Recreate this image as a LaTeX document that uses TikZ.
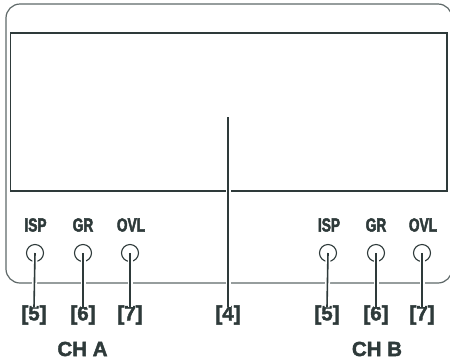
\documentclass[tikz,border=0pt]{standalone}
\usepackage{fontspec}
\setmainfont{Liberation Sans}
\newfontfamily\condfont[FakeStretch=0.72,FakeBold=2.4]{Liberation Sans}
\newfontfamily\heavyfont[FakeBold=2]{Liberation Sans}
\definecolor{ink}{HTML}{2E3A3A}
\definecolor{frame}{HTML}{5E6868}
\begin{document}
\begin{tikzpicture}[x=1pt,y=-1pt,
  lbl/.style={font=\condfont\bfseries\fontsize{19}{19}\selectfont,text=ink,inner sep=0pt},
  num/.style={font=\heavyfont\bfseries\fontsize{20.5}{20.5}\selectfont,text=ink,inner sep=0pt},
  led/.style={circle,draw=ink,line width=1.1pt,minimum size=17pt,inner sep=0pt},
  halo/.style={draw=white,line width=5pt},
  leader/.style={draw=ink,line width=1.6pt}]
\useasboundingbox (0,0) rectangle (450,360);
% outer housing
\draw[frame,line width=1.2pt,rounded corners=14pt] (6,4) rectangle (452,283);
% display
\draw[ink,line width=1.6pt] (10.5,33) rectangle (447,191);
% channel A
\node[lbl] (ispA) at (35.5,225) {ISP};
\node[lbl] (grA) at (83,225) {GR};
\node[lbl] (ovlA) at (131,225) {OVL};
\node[led] (cA5) at (35,253) {};
\node[led] (cA6) at (83,253) {};
\node[led] (cA7) at (130,253) {};
\node[num] (nA5) at (34,315) {[5]};
\node[num] (nA6) at (83,315) {[6]};
\node[num] (nA7) at (130,315) {[7]};
\node[num] (chA) at (82.5,349) {CH A};
% channel B
\node[lbl] (ispB) at (329,225) {ISP};
\node[lbl] (grB) at (376,225) {GR};
\node[lbl] (ovlB) at (423,225) {OVL};
\node[led] (cB5) at (328,253) {};
\node[led] (cB6) at (376,253) {};
\node[led] (cB7) at (422,253) {};
\node[num] (nB5) at (327,315) {[5]};
\node[num] (nB6) at (376,315) {[6]};
\node[num] (nB7) at (422,315) {[7]};
\node[num] (chB) at (377,349) {CH B};
% display label
\coordinate (d4) at (228,117);
\node[num] (n4) at (228,315) {[4]};
% leaders
\foreach \a/\b in {cA5/nA5,cA6/nA6,cA7/nA7,cB5/nB5,cB6/nB6,cB7/nB7,d4/n4}{
  \path[halo] (\a.center) ++(0,6) -- ([yshift=-2pt]\b.north);
  \path[leader] (\a.center) -- ([yshift=-2pt]\b.north);
}
\end{tikzpicture}
\end{document}
